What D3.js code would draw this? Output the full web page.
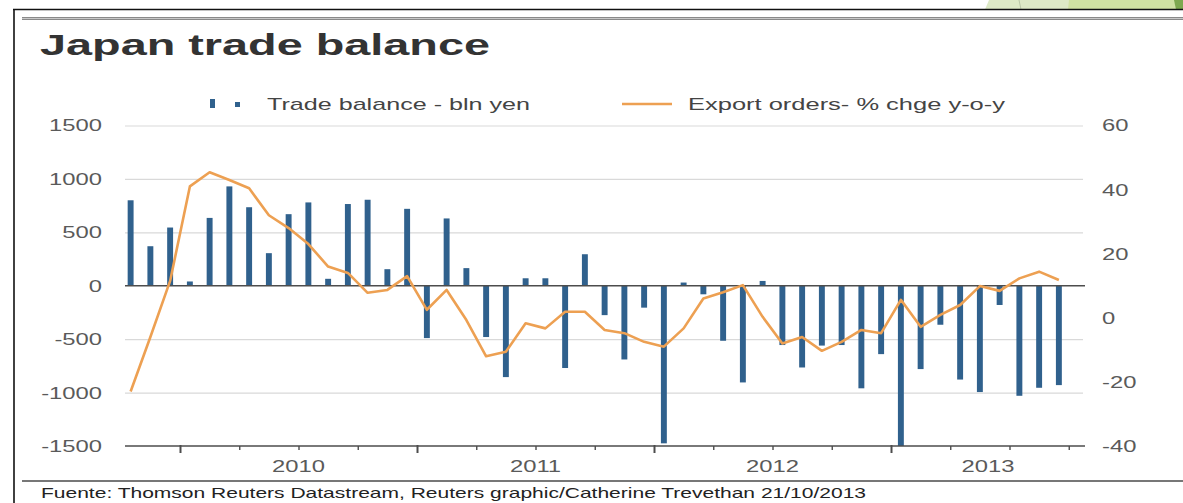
<!DOCTYPE html>
<html>
<head>
<meta charset="utf-8">
<script src="https://cdn.jsdelivr.net/npm/d3@7"></script>
<style>
  body { margin: 0; background: #fff; }
  svg { display: block; font-family: "Liberation Sans", Arial, Helvetica, sans-serif; }
</style>
</head>
<body>
<svg id="chart" width="1183" height="503"></svg>
<script>
// Monthly categories, Oct 2009 – Sep 2013
const months = [
  "2009-10","2009-11","2009-12",
  "2010-01","2010-02","2010-03","2010-04","2010-05","2010-06","2010-07","2010-08","2010-09","2010-10","2010-11","2010-12",
  "2011-01","2011-02","2011-03","2011-04","2011-05","2011-06","2011-07","2011-08","2011-09","2011-10","2011-11","2011-12",
  "2012-01","2012-02","2012-03","2012-04","2012-05","2012-06","2012-07","2012-08","2012-09","2012-10","2012-11","2012-12",
  "2013-01","2013-02","2013-03","2013-04","2013-05","2013-06","2013-07","2013-08","2013-09"
];

// Trade balance, bln yen
const tradeBalance = [
  800, 370, 545,
  40, 635, 930, 735, 305, 670, 780, 65, 765, 805, 155, 720,
  -490, 630, 165, -480, -855, 70, 70, -770, 295, -275, -690, -205,
  -1475, 30, -80, -515, -905, 45, -555, -765, -560, -555, -960, -640,
  -1500, -780, -365, -878, -995, -180, -1030, -955, -930
];

// Export orders, % change y-o-y
const exportOrders = [
  -23, -6, 11.5,
  41, 45.4, 43, 40.4, 32, 28, 23, 16, 14, 7.8, 8.7, 13,
  2.5, 8.7, -0.7, -12, -10.6, -1.7, -3.3, 1.9, 1.9, -3.8, -4.8, -7.5,
  -9, -3.3, 6, 8, 10.2, 0.3, -8, -6, -10.3, -7.5, -3.8, -4.8,
  5.6, -2.8, 0.9, 4, 9.9, 8.4, 12.3, 14.4, 11.8
];

const leftTicks = [1500, 1000, 500, 0, -500, -1000, -1500];
const rightTicks = [60, 40, 20, 0, -20, -40];
const yearLabels = ["2010", "2011", "2012", "2013"];
const yearStartMonths = ["2010-01", "2011-01", "2012-01", "2013-01"];

const titleText = "Japan trade balance";
const legendBars = "Trade balance - bln yen";
const legendLine = "Export orders- % chge y-o-y";
const sourceText = "Fuente: Thomson Reuters Datastream, Reuters graphic/Catherine Trevethan 21/10/2013";

// ---- layout ----
const svg = d3.select("#chart");
const plot = { left: 125, right: 1085, top: 125.5, bottom: 446 };
const bandLeft = 120.75, bandRight = 1068.75;
const gridRight = 1083;
const sx = 1.4;           // horizontal stretch of axis lettering

const BAR = "#30618d";
const ORANGE = "#eda052";
const AXIS = "#4d4d4d";
const LABEL = "#5a5a5a";

// plain hyphen for negative tick values
const fmt = d => String(d);

// ---- scales ----
const x = d3.scaleBand().domain(months).range([bandLeft, bandRight])
  .paddingInner(0.7).paddingOuter(0.35);
const xIdx = d3.scaleLinear().domain([0, months.length]).range([bandLeft, bandRight]);
const yL = d3.scaleLinear().domain([-1500, 1500]).range([plot.bottom, plot.top]);
const yR = d3.scaleLinear().domain([-40, 60]).range([plot.bottom, plot.top]);

// ---- frame decorations ----
const deco = svg.append("g");
deco.append("polygon").attr("points", "985,9.5 989,0 1183,0 1183,9.5").attr("fill", "#dde9c6");
deco.append("polygon").attr("points", "1068,9.5 1069,0 1183,0 1183,9.5").attr("fill", "#d0e1a2");
deco.append("polygon").attr("points", "1176,9.5 1174,0 1183,0 1183,9.5").attr("fill", "#7ea84f");
deco.append("line").attr("x1", 1019).attr("y1", 0).attr("x2", 1021).attr("y2", 9.5)
  .attr("stroke", "#b9c6a6").attr("stroke-width", 1);
deco.append("line").attr("x1", 13).attr("y1", 9.5).attr("x2", 1183).attr("y2", 9.5)
  .attr("stroke", "#111").attr("stroke-width", 1.6);
deco.append("line").attr("x1", 14).attr("y1", 9).attr("x2", 14).attr("y2", 503)
  .attr("stroke", "#111").attr("stroke-width", 1.6);
deco.append("line").attr("x1", 22).attr("y1", 18.5).attr("x2", 1183).attr("y2", 18.5)
  .attr("stroke", "#8a8a8a").attr("stroke-width", 3);
deco.append("line").attr("x1", 22).attr("y1", 18.5).attr("x2", 1183).attr("y2", 18.5)
  .attr("stroke", "#c8c8c8").attr("stroke-width", 1);
deco.append("line").attr("x1", 22).attr("y1", 481).attr("x2", 1183).attr("y2", 481)
  .attr("stroke", "#777").attr("stroke-width", 1.8);

// ---- title ----
svg.append("text").attr("x", 40).attr("y", 55)
  .attr("font-size", 30).attr("font-weight", "bold").attr("fill", "#333")
  .attr("textLength", 450).attr("lengthAdjust", "spacingAndGlyphs")
  .text(titleText);

// ---- gridlines ----
const grid = svg.append("g").attr("transform", `translate(${plot.left},0)`)
  .call(d3.axisLeft(yL).tickValues(leftTicks.filter(v => v !== 0 && v !== -1500))
    .tickSize(-(gridRight - plot.left)).tickFormat(""));
grid.select(".domain").remove();
grid.selectAll(".tick line").attr("stroke", "#d9d9d9").attr("stroke-width", 1.2);

// ---- left axis labels ----
const axL = svg.append("g").attr("transform", `translate(${plot.left},0)`)
  .call(d3.axisLeft(yL).tickValues(leftTicks).tickSize(0).tickPadding(23).tickFormat(fmt));
axL.select(".domain").remove();
axL.selectAll("text")
  .attr("font-size", 17).attr("font-family", null).attr("fill", LABEL)
  .attr("x", -23 / sx).attr("transform", `scale(${sx},1)`);

// ---- right axis labels ----
const axR = svg.append("g").attr("transform", `translate(${plot.right},0)`)
  .call(d3.axisRight(yR).tickValues(rightTicks).tickSize(0).tickPadding(17).tickFormat(fmt));
axR.select(".domain").remove();
axR.selectAll("text")
  .attr("font-size", 17).attr("font-family", null).attr("fill", LABEL)
  .attr("x", 17 / sx).attr("transform", `scale(${sx},1)`);

// ---- bars ----
svg.append("g").selectAll("rect")
  .data(months.map((m, i) => ({ m, v: tradeBalance[i] })))
  .join("rect")
  .attr("x", d => x(d.m))
  .attr("width", x.bandwidth())
  .attr("y", d => yL(Math.max(0, d.v)))
  .attr("height", d => Math.abs(yL(d.v) - yL(0)))
  .attr("fill", BAR);

// ---- zero line ----
svg.append("line")
  .attr("x1", plot.left).attr("x2", plot.right)
  .attr("y1", yL(0)).attr("y2", yL(0))
  .attr("stroke", AXIS).attr("stroke-width", 1.6);

// ---- bottom axis ----
const yearIdx = yearStartMonths.map(m => months.indexOf(m));
const quarterIdx = d3.range(3, months.length + 1, 3);
const axB = svg.append("g").attr("transform", `translate(0,${plot.bottom})`)
  .call(d3.axisBottom(xIdx).tickValues(quarterIdx).tickSize(4).tickFormat(""));
axB.select(".domain").remove();
axB.selectAll(".tick line").attr("stroke", AXIS).attr("stroke-width", 1.4);
axB.selectAll(".tick").filter(d => yearIdx.includes(d))
  .select("line").attr("y1", -1).attr("y2", 7).attr("stroke-width", 2);
axB.append("line").attr("x1", plot.left).attr("x2", plot.right)
  .attr("y1", 0).attr("y2", 0).attr("stroke", AXIS).attr("stroke-width", 1.6);

// year labels centred on the visible part of each year
svg.append("g").selectAll("text")
  .data(yearLabels.map((t, i) => ({ t, s: yearIdx[i] })))
  .join("text")
  .attr("transform", d => {
    const cx = (Math.max(plot.left, xIdx(d.s)) + Math.min(plot.right, xIdx(d.s + 12))) / 2;
    return `translate(${cx},472) scale(${sx},1)`;
  })
  .attr("text-anchor", "middle").attr("font-size", 17).attr("fill", LABEL)
  .text(d => d.t);

// ---- export orders line ----
svg.append("path")
  .datum(months.map((m, i) => ({ m, v: exportOrders[i] })))
  .attr("fill", "none").attr("stroke", ORANGE).attr("stroke-width", 2.6)
  .attr("stroke-linejoin", "round")
  .attr("d", d3.line().x(d => x(d.m) + x.bandwidth() / 2).y(d => yR(d.v)));

// ---- legend ----
const lg = svg.append("g");
lg.append("rect").attr("x", 210).attr("y", 99).attr("width", 5).attr("height", 9).attr("fill", BAR);
lg.append("rect").attr("x", 235).attr("y", 102).attr("width", 5).attr("height", 5).attr("fill", BAR);
lg.append("text").attr("x", 267).attr("y", 110).attr("font-size", 17).attr("fill", "#444")
  .attr("textLength", 263).attr("lengthAdjust", "spacingAndGlyphs").text(legendBars);
lg.append("line").attr("x1", 622).attr("x2", 672).attr("y1", 104).attr("y2", 104)
  .attr("stroke", ORANGE).attr("stroke-width", 2.6);
lg.append("text").attr("x", 688).attr("y", 110).attr("font-size", 17).attr("fill", "#444")
  .attr("textLength", 317).attr("lengthAdjust", "spacingAndGlyphs").text(legendLine);

// ---- source note ----
svg.append("text").attr("x", 41).attr("y", 498).attr("font-size", 15).attr("fill", "#222")
  .attr("textLength", 825).attr("lengthAdjust", "spacingAndGlyphs").text(sourceText);
</script>
</body>
</html>
